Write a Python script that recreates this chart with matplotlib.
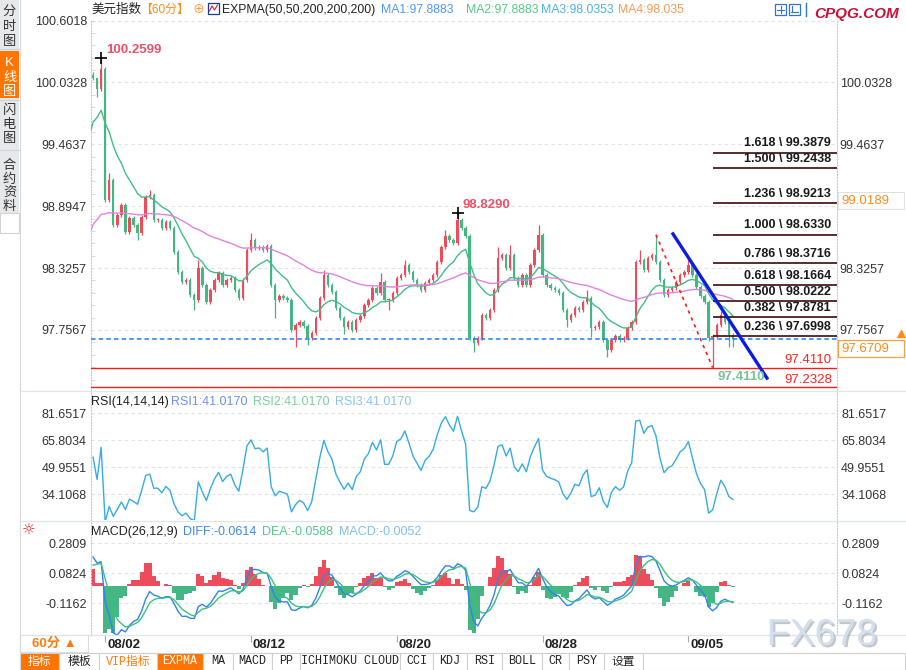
import numpy as np
import matplotlib
matplotlib.use("Agg")
import matplotlib.pyplot as plt
import matplotlib.patheffects as pe
from matplotlib.patches import Rectangle

plt.rcParams['font.family'] = ['Liberation Sans', 'Noto Sans CJK SC', 'DejaVu Sans']

# =========================
# data (美元指数, 60分 chart read as 4-hour steps)
# =========================
first_open = 100.10
closes = [
    100.073, 99.972, 100.156, 98.952, 99.136, 98.722, 98.814, 98.906, 98.658, 98.786,
    98.722, 98.648, 98.796, 98.979, 98.998, 98.768, 98.768, 98.694, 98.750, 98.694,
    98.474, 98.290, 98.198, 98.216, 98.079, 98.033, 98.327, 98.170, 98.014, 98.124,
    98.216, 98.281, 98.170, 98.216, 98.235, 98.124, 98.051, 98.216, 98.492, 98.584,
    98.510, 98.520, 98.492, 98.529, 98.170, 98.033, 98.069, 98.051, 98.033, 97.757,
    97.803, 97.830, 97.794, 97.683, 97.729, 97.867, 98.051, 98.262, 98.170, 98.106,
    97.959, 97.867, 97.784, 97.830, 97.757, 97.849, 97.885, 97.987, 98.033, 98.143,
    98.097, 98.198, 98.033, 98.033, 98.097, 98.235, 98.262, 98.354, 98.290, 98.216,
    98.170, 98.124, 98.189, 98.216, 98.262, 98.382, 98.520, 98.621, 98.584, 98.556,
    98.768, 98.694, 98.621, 97.683, 97.637, 97.683, 97.895, 97.867, 97.941, 98.124,
    98.419, 98.446, 98.327, 98.446, 98.235, 98.170, 98.262, 98.170, 98.354, 98.492,
    98.630, 98.262, 98.170, 98.143, 98.124, 98.097, 97.941, 97.849, 97.895, 97.959,
    97.941, 98.014, 98.051, 97.775, 97.784, 97.830, 97.665, 97.573, 97.665, 97.702,
    97.665, 97.683, 97.775, 97.830, 98.382, 98.400, 98.308, 98.419, 98.446, 98.382,
    98.216, 98.079, 98.124, 98.143, 98.198, 98.262, 98.290, 98.354, 98.262, 98.152,
    98.069, 98.014, 97.680, 97.700, 97.800, 97.895, 97.830, 97.710, 97.6709,
]
bar_highs = {0: 100.13, 1: 100.03, 2: 100.2599, 4: 99.20, 14: 99.04, 26: 98.40, 39: 98.65,
             57: 98.31, 71: 98.28, 77: 98.40, 87: 98.68, 90: 98.8290, 100: 98.52,
             103: 98.54, 110: 98.72, 122: 98.12, 135: 98.49, 139: 98.6330, 147: 98.41,
             155: 97.93}
bar_lows = {1: 99.90, 11: 98.58, 25: 97.94, 45: 97.87, 50: 97.60, 53: 97.62, 62: 97.72,
            73: 97.94, 94: 97.55, 117: 97.78, 123: 97.69, 127: 97.51, 153: 97.4110,
            157: 97.60, 158: 97.60}

date_idx = [3, 39, 75, 111, 147]
date_labels = ["08/02", "08/12", "08/20", "08/28", "09/05"]

price_ticks = [100.6018, 100.0328, 99.4637, 98.8947, 98.3257, 97.7567]
price_ticks_right = [100.0328, 99.4637, 98.3257, 97.7567]
rsi_ticks = [81.6517, 65.8034, 49.9551, 34.1068]
macd_ticks = [0.2809, 0.0824, -0.1162]

fib_ratio = ["0.236", "0.382", "0.500", "0.618", "0.786", "1.000", "1.236", "1.500", "1.618"]
fib_value = [97.6998, 97.8781, 98.0222, 98.1664, 98.3716, 98.6330, 98.9213, 99.2438, 99.3879]
fib_high_idx, fib_low_idx = 139, 153
support_lines = [97.4110, 97.2328]
last_price = 97.6709
trend_x = [143.2, 166.4]
trend_y = [98.64, 97.315]

# EXPMA seeds (values at the left edge of the chart)
ema_fast_seed, ema_slow_seed = 99.595, 98.676
macd_seed = (99.95, 99.75, 0.10)
rsi_seed = (0.03, 0.05)

RED = '#ee4b5b'
GREEN = '#45b584'

# =========================
# indicators
# =========================
c = np.array(closes)
n = len(c)
idx = np.arange(n)
o = np.r_[first_open, c[:-1]]


def ema(x, span, seed):
    a = 2.0 / (span + 1)
    v = seed
    out = []
    for val in x:
        v = v + a * (val - v)
        out.append(v)
    return np.array(out)


ma_fast = ema(c, 12.5, ema_fast_seed)
ma_slow = ema(c, 55, ema_slow_seed)

# RSI, SMA style (chinese formula)
ag, al = rsi_seed
rsi = []
prev = first_open
N_RSI = 8
for val in c:
    d = val - prev
    prev = val
    ag = (max(d, 0) + (N_RSI - 1) * ag) / N_RSI
    al = (abs(d) + (N_RSI - 1) * al) / N_RSI
    rsi.append(100 * ag / al)
rsi = np.array(rsi)

diff = ema(c, 4, macd_seed[0]) - ema(c, 10, macd_seed[1])
dea = ema(diff, 4, macd_seed[2])
hist = 2 * (diff - dea)

# =========================
# figure
# =========================
W, H = 906, 670
fig = plt.figure(figsize=(W / 100, H / 100), dpi=100)


def px_rect(x0, y0, x1, y1):
    return [x0 / W, 1 - y1 / H, (x1 - x0) / W, (y1 - y0) / H]


ax = fig.add_axes(px_rect(91, 20, 837, 390))
ax_rsi = fig.add_axes(px_rect(91, 392, 837, 520), sharex=ax)
ax_macd = fig.add_axes(px_rect(91, 522, 837, 635), sharex=ax)

PRICE_LIM = (97.2051, 100.6065)
RSI_LIM = (18.85, 93.98)
MACD_LIM = (-0.326, 0.4219)
X_LIM = (-0.5, 183.7)


def style(a, ticks, fmt):
    a.set_facecolor('none')
    for s in ['top', 'bottom']:
        a.spines[s].set_visible(False)
    for s in ['left', 'right']:
        a.spines[s].set_color('#c9c9c9')
        a.spines[s].set_linestyle(':')
        a.spines[s].set_linewidth(0.8)
    a.set_yticks(ticks)
    a.set_yticklabels([fmt(t) for t in ticks])
    a.tick_params(axis='y', length=0, labelsize=9, labelcolor='#333333', pad=3)
    a.tick_params(axis='x', length=0, labelbottom=False)
    for t in ticks:
        a.axhline(t, color='#e2e2e2', lw=0.8, ls=(0, (3, 3)), zorder=0)


style(ax, price_ticks, lambda t: f"{t:.4f}")
style(ax_rsi, rsi_ticks, lambda t: f"{t:.4f}")
style(ax_macd, macd_ticks, lambda t: f"{t:.4f}")
ax_rsi.tick_params(axis='y', labelright=True)
ax_macd.tick_params(axis='y', labelright=True)

minor = np.arange(97.7567 - 0.569, 100.62, 0.569 / 5)
ax.set_yticks(minor, minor=True)
ax.tick_params(axis='y', which='minor', length=3, direction='in', color='#d4d4d4')

# candles
hi = np.maximum(o, c) + 0.02
lo = np.minimum(o, c) - 0.02
for k, v in bar_highs.items():
    hi[k] = max(v, max(o[k], c[k]))
for k, v in bar_lows.items():
    lo[k] = min(v, min(o[k], c[k]))
col = np.where(c >= o, RED, GREEN)
ax.vlines(idx, lo, hi, colors=col, lw=0.9, zorder=2)
ax.bar(idx, np.maximum(np.abs(c - o), 0.008), bottom=np.minimum(o, c), width=0.6,
       color=col, lw=0, zorder=2)

# EXPMA lines
ax.plot(np.r_[-0.5, idx], np.r_[ema_fast_seed, ma_fast], color='#3fbf86', lw=1, zorder=3)
ax.plot(np.r_[-0.5, idx], np.r_[ema_slow_seed, ma_slow], color='#e183dc', lw=1, zorder=3)

# horizontal levels
ax.axhline(last_price, color='#1f7fee', lw=1.1, ls=(0, (3, 2)), zorder=4)
for v in support_lines:
    ax.axhline(v, color='#ff1a1a', lw=1.0, zorder=4)
    ax.text(0.993, v + 0.012, f"{v:.4f}", transform=ax.get_yaxis_transform(),
            ha='right', va='bottom', color='#ff2222', fontsize=9.5, zorder=6)

# fibonacci
for r, v in zip(fib_ratio, fib_value):
    ax.hlines(v, fib_low_idx, X_LIM[1], color='#3a0c0c', lw=1.2, zorder=4)
    ax.text(0.992, v + 0.03, f"{r} \\ {v:.4f}", transform=ax.get_yaxis_transform(),
            ha='right', va='bottom', color='#1a1a1a', fontsize=9, fontweight='bold', zorder=6)
ax.plot([fib_high_idx, fib_low_idx], [bar_highs[fib_high_idx], bar_lows[fib_low_idx]],
        color='#ff1a1a', lw=1.2, ls=(0, (2, 2.5)), zorder=5)
ax.plot(trend_x, trend_y, color='#0b1be6', lw=2.4, zorder=5)

# peaks
for k in [2, 90]:
    ax.plot(k, bar_highs[k], marker='+', color='k', ms=8, mew=1.2, zorder=6)
    ax.annotate(f"{bar_highs[k]:.4f}", (k, bar_highs[k]), xytext=(5, 8),
                textcoords='offset pixels', color='#ef5068', fontsize=9.5,
                fontweight='bold', ha='left', va='center', zorder=6)
ax.annotate(f"{bar_lows[fib_low_idx]:.4f}", (fib_low_idx, bar_lows[fib_low_idx]),
            xytext=(5, -9), textcoords='offset pixels', color='#72c499', fontsize=9.5,
            fontweight='bold', ha='left', va='center', zorder=6)

# RSI
ax_rsi.plot(idx, rsi, color='#35abe8', lw=1)

# MACD
ax_macd.bar(idx, hist, width=1.0, color=np.where(hist >= 0, RED, GREEN), lw=0)
ax_macd.plot(idx, diff, color='#2f84ee', lw=1)
ax_macd.plot(idx, dea, color='#3cc07e', lw=1)
ax_macd.set_xticks(date_idx)
ax_macd.tick_params(axis='x', length=5, direction='out', color='#a8a8a8', width=0.8)
for i, lbl in zip(date_idx, date_labels):
    ax_macd.annotate(lbl, (i, 0), xycoords=('data', 'axes fraction'), xytext=(2, -10),
                     textcoords='offset pixels', ha='left', va='center',
                     fontsize=9.5, fontweight='bold', color='#222222')

# limits last (set_yticks may widen them)
ax.set_xlim(*X_LIM)
ax.set_ylim(*PRICE_LIM)
ax_rsi.set_ylim(*RSI_LIM)
ax_macd.set_ylim(*MACD_LIM)

axr = ax.twinx()
axr.set_yticks(price_ticks_right)
axr.set_yticklabels([f"{t:.4f}" for t in price_ticks_right])
axr.set_ylim(*PRICE_LIM)
axr.tick_params(axis='y', length=0, labelsize=9, labelcolor='#333333', pad=2)
for s in axr.spines.values():
    s.set_visible(False)

# =========================
# frame, headers, toolbar
# =========================
ov = fig.add_axes([0, 0, 1, 1], zorder=10)
ov.set_xlim(0, W)
ov.set_ylim(H, 0)
ov.axis('off')
ov.patch.set_alpha(0)

# sidebar
ov.add_patch(Rectangle((0, 0), 19, 213, color='#e7e8ec', lw=0))
ov.add_patch(Rectangle((0, 51), 19, 47, color='#ff7300', lw=0))
ov.add_patch(Rectangle((0, 213), 19, 20, facecolor='white', edgecolor='#cfd3d8', lw=0.8))
ov.plot([0, 19], [49, 49], color='#cfd3d8', lw=0.8)
ov.plot([0, 19], [100, 100], color='#cfd3d8', lw=0.8)
ov.plot([0, 19], [150, 150], color='#cfd3d8', lw=0.8)
ov.plot([19.5, 19.5], [0, 670], color='#d3d8de', lw=0.8)
side = [("分", 12), ("时", 27), ("图", 42), ("K", 63), ("线", 78), ("图", 92),
        ("闪", 111), ("电", 125), ("图", 139), ("合", 166), ("约", 180), ("资", 193),
        ("料", 207)]
for ch, yy in side:
    ov.text(9.5, yy, ch, ha='center', va='center', fontsize=9.5,
            color='white' if 55 < yy < 97 else '#333333')

# panel separators
for yy in [391, 521, 635]:
    ov.plot([20, W], [yy, yy], color='#dfe5ea', lw=0.9)

# main header
ov.text(91, 10, "美元指数", fontsize=9, color='#222222', va='center')
ov.text(140, 10, "【60分】", fontsize=8.6, color='#ff8a1a', va='center')
ov.text(198, 10.5, "⊕", fontsize=8.5, color='#ff8a1a', va='center', ha='center')
ov.add_patch(Rectangle((208, 3), 11, 11, facecolor='white', edgecolor='#1a3a9a', lw=0.9))
ov.plot([209.5, 212, 214.5, 217.5], [11, 6, 10, 5], color='#d02030', lw=0.8)
ov.text(222, 10, "EXPMA(50,50,200,200,200)", fontsize=8.8, color='#222222', va='center')
for x0, txt, cc in [(381, "MA1:97.8883", '#4d9af5'), (466, "MA2:97.8883", '#56c98b'),
                    (541, "MA3:98.0353", '#4cb0ec'), (618, "MA4:98.035", '#f59b55')]:
    ov.text(x0, 10, txt, fontsize=8.8, color=cc, va='center')
for x0 in [775, 789]:
    ov.add_patch(Rectangle((x0, 4), 11, 11, facecolor='white', edgecolor='#2e74d0', lw=0.9))
ov.plot([780.5, 780.5], [6, 13], color='#2e74d0', lw=0.8)
ov.plot([777, 784], [9.5, 9.5], color='#2e74d0', lw=0.8)
ov.plot([791, 798], [12, 12], color='#2e74d0', lw=0.8)
ov.plot([791.5, 791.5], [6, 12], color='#2e74d0', lw=0.8)
ov.plot([806, 806], [3, 16], color='#2e74d0', lw=1)
ov.text(857, 14, "CPQG.COM", fontsize=11, color='#cc1038', fontweight='bold',
        style='italic', ha='center', va='center')

# right-side value boxes
ov.add_patch(Rectangle((838, 192), 66, 17, facecolor='white', edgecolor='#e0e0e0', lw=0.8))
ov.text(841, 200.5, "99.0189", fontsize=9.5, color='#ff8a1a', va='center')
ov.add_patch(Rectangle((838, 340), 66, 17, facecolor='white', edgecolor='#f5a040', lw=0.9))
ov.text(841, 348.5, "97.6709", fontsize=9.5, color='#ff8a1a', va='center')
ov.plot(901, 333, marker='^', color='#ff8a1a', ms=4)
ov.plot([897, 905], [337, 337], color='#ff8a1a', lw=1)

# rsi / macd headers
ov.text(91, 402, "RSI(14,14,14)", fontsize=9, color='#222222', va='center')
for x0, txt, cc in [(171, "RSI1:41.0170", '#6f8ff2'), (253, "RSI2:41.0170", '#7ccf9e'),
                    (335, "RSI3:41.0170", '#8dc3ef')]:
    ov.text(x0, 402, txt, fontsize=9, color=cc, va='center')
ov.text(91, 532, "MACD(26,12,9)", fontsize=9, color='#222222', va='center')
for x0, txt, cc in [(183, "DIFF:-0.0614", '#3a8af0'), (262, "DEA:-0.0588", '#55c88c'),
                    (339, "MACD:-0.0052", '#7fc0ee')]:
    ov.text(x0, 532, txt, fontsize=9, color=cc, va='center')
ov.text(29, 530, "☼", fontsize=11, color='#e8202a', ha='center', va='center',
        family=['DejaVu Sans'])

# bottom left box
ov.add_patch(Rectangle((20, 635), 68, 17, facecolor='white', edgecolor='#dcdcdc', lw=0.8))
ov.text(54, 644, "60分 ▲", fontsize=9.5, color='#ff7a10', fontweight='bold',
        ha='center', va='center')

# toolbar
btn_labels = ["指标", "模板", "VIP指标", "EXPMA", "MA", "MACD", "PP", "ICHIMOKU CLOUD",
              "CCI", "KDJ", "RSI", "BOLL", "CR", "PSY", "设置", ""]
btn_edges = [20, 59, 99, 157, 203, 233, 272, 300, 400, 433, 467, 502, 542, 569, 604, 643, 905]
for k, lbl in enumerate(btn_labels):
    x0, x1 = btn_edges[k], btn_edges[k + 1]
    hot = lbl in ("指标", "EXPMA")
    ov.add_patch(Rectangle((x0, 653), x1 - x0, 16.5, facecolor='#ff7300' if hot else 'white',
                           edgecolor='#cfcfcf', lw=0.8))
    if lbl:
        tc = 'white' if hot else ('#ff7a10' if lbl == "VIP指标" else '#222222')
        ov.text((x0 + x1) / 2, 661.5, lbl, fontsize=8.5, color=tc, ha='center', va='center',
                family=['Liberation Mono', 'Noto Sans CJK SC'])

# watermark
ov.text(822, 635, "FX678", fontsize=27, color='#d3dfec', ha='center', va='center',
        path_effects=[pe.withSimplePatchShadow(offset=(1.5, -1.5), shadow_rgbFace='#9aa2ac',
                                               alpha=0.6)])

fig.savefig("out.png", dpi=100)
